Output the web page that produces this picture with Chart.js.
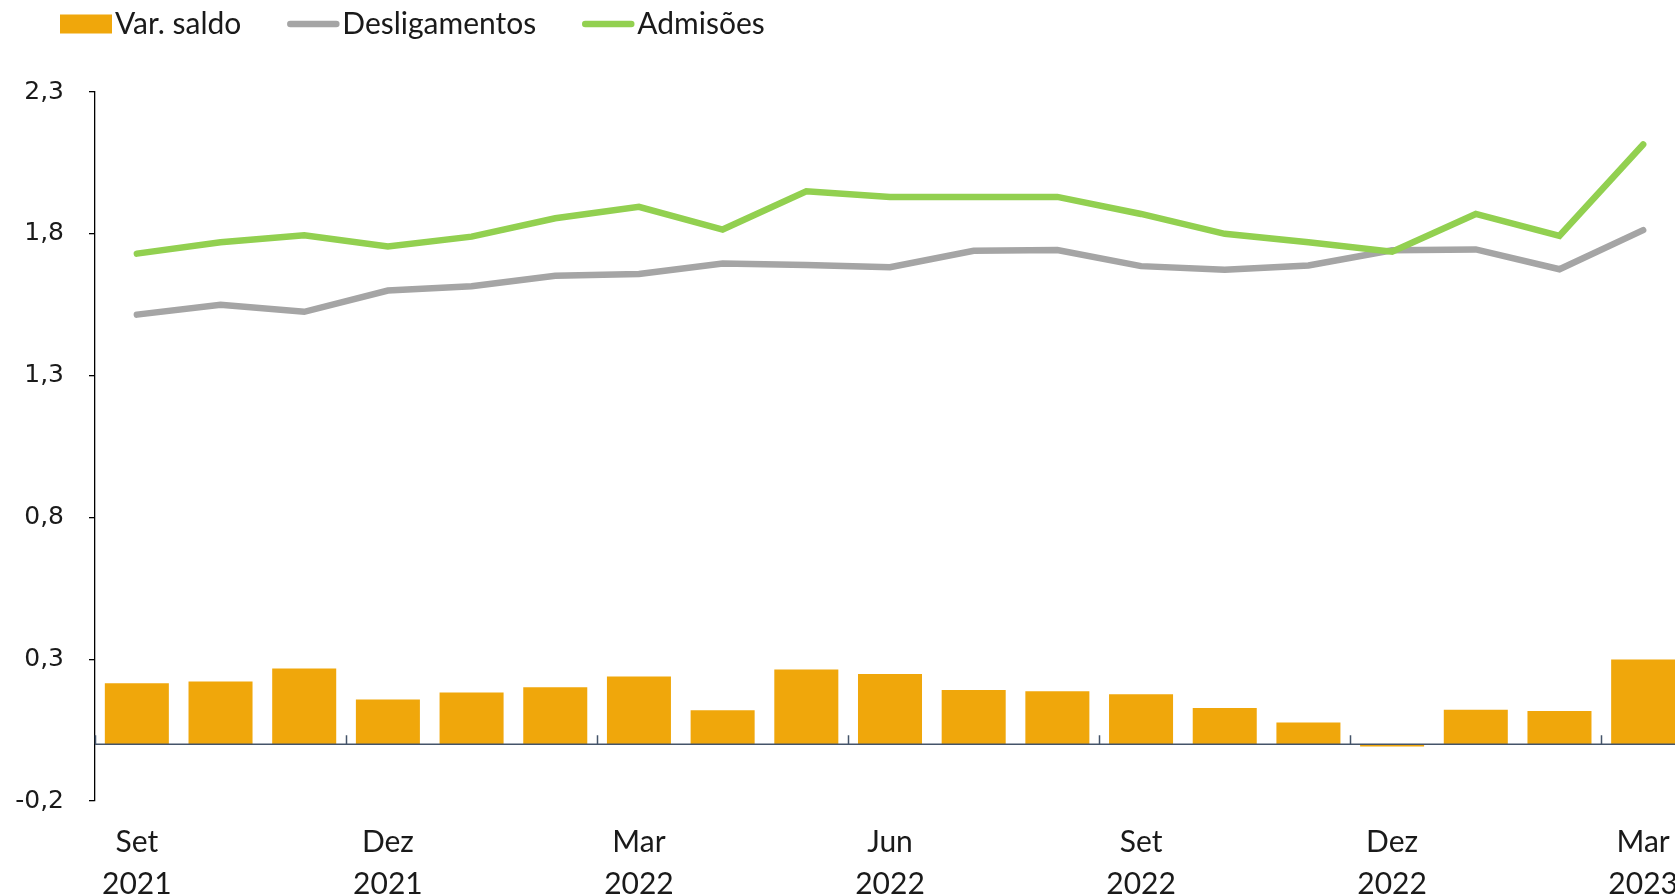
<!DOCTYPE html>
<html>
<head>
<meta charset="utf-8">
<script src="https://cdn.jsdelivr.net/npm/chart.js@4.4.0/dist/chart.umd.min.js"></script>
<style>
  html, body { margin: 0; padding: 0; overflow: hidden; background: #fff; }
  #wrap { width: 1700px; height: 896px; }
</style>
</head>
<body>
<div id="wrap"><canvas id="myChart" width="1700" height="896" style="width:1700px;height:896px"></canvas></div>
<script>
// Data
const months = ['Set', 'Out', 'Nov', 'Dez', 'Jan', 'Fev', 'Mar', 'Abr', 'Mai', 'Jun', 'Jul', 'Ago', 'Set', 'Out', 'Nov', 'Dez', 'Jan', 'Fev', 'Mar'];
const years = ['2021', '2021', '2021', '2021', '2022', '2022', '2022', '2022', '2022', '2022', '2022', '2022', '2022', '2022', '2022', '2022', '2023', '2023', '2023'];
const saldo = [0.215, 0.221, 0.267, 0.158, 0.183, 0.201, 0.239, 0.120, 0.264, 0.248, 0.191, 0.187, 0.176, 0.128, 0.077, -0.008, 0.122, 0.117, 0.299];
const desligamentos = [1.515, 1.55, 1.525, 1.60, 1.615, 1.652, 1.658, 1.695, 1.69, 1.682, 1.74, 1.743, 1.686, 1.673, 1.688, 1.742, 1.745, 1.675, 1.813];
const admissoes = [1.73, 1.77, 1.795, 1.755, 1.79, 1.855, 1.895, 1.815, 1.95, 1.93, 1.93, 1.93, 1.87, 1.80, 1.77, 1.737, 1.87, 1.793, 2.115];
const yTicks = [-0.2, 0.3, 0.8, 1.3, 1.8, 2.3];

const textColor = '#1a1a1a';
const labelFont = 'Lato';

// legend on top, drawn by hand (box + line symbols)
const topLegend = {
  id: 'topLegend',
  afterDraw(chart) {
    const ctx = chart.ctx;
    let x = 60;
    const y = 24;
    ctx.save();
    ctx.font = '30px ' + labelFont;
    ctx.textBaseline = 'middle';
    chart.data.datasets.forEach((ds) => {
      if (ds.type === 'line') {
        ctx.strokeStyle = ds.borderColor;
        ctx.lineWidth = 6.5;
        ctx.lineCap = 'round';
        ctx.beginPath();
        ctx.moveTo(x + 3, y);
        ctx.lineTo(x + 49, y);
        ctx.stroke();
      } else {
        ctx.fillStyle = ds.backgroundColor;
        ctx.fillRect(x, y - 9.5, 52, 19);
      }
      x += 55;
      ctx.fillStyle = textColor;
      ctx.fillText(ds.label, x, y);
      x += ctx.measureText(ds.label).width + 46;
    });
    ctx.restore();
  }
};

// zero line with small upward ticks every quarter
const zeroLine = {
  id: 'zeroLine',
  afterDatasetsDraw(chart) {
    const { ctx, chartArea, scales } = chart;
    const y0 = scales.y.getPixelForValue(0);
    const half = (scales.x.getPixelForValue(1) - scales.x.getPixelForValue(0)) / 2;
    ctx.save();
    ctx.strokeStyle = '#44546A';
    ctx.lineWidth = 1.5;
    ctx.beginPath();
    ctx.moveTo(chartArea.left, y0);
    ctx.lineTo(chartArea.right, y0);
    for (let i = 0; i < months.length; i += 3) {
      const xb = Math.round(scales.x.getPixelForValue(i) - half) + 0.5;
      ctx.moveTo(xb, y0);
      ctx.lineTo(xb, y0 - 9);
    }
    ctx.stroke();
    ctx.restore();
  }
};

const ctx = document.getElementById('myChart').getContext('2d');
const data = {
  labels: months,
  datasets: [
    {
      type: 'bar',
      label: 'Var. saldo',
      data: saldo,
      backgroundColor: '#F0A70B',
      barPercentage: 0.765,
      categoryPercentage: 1,
      order: 2,
    },
    {
      type: 'line',
      label: 'Desligamentos',
      data: desligamentos,
      borderColor: '#A5A5A5',
      borderWidth: 6.5,
      pointRadius: 0,
      tension: 0,
      borderCapStyle: 'round',
      order: 1,
    },
    {
      type: 'line',
      label: 'Admisões',
      data: admissoes,
      borderColor: '#92D050',
      borderWidth: 6.5,
      pointRadius: 0,
      tension: 0,
      borderCapStyle: 'round',
      order: 0,
    },
  ],
};

const config = {
  type: 'bar',
  data: data,
  options: {
    responsive: false,
    animation: false,
    layout: { padding: { top: 92, right: 15, left: 0, bottom: 0 } },
    plugins: {
      legend: { display: false },
      tooltip: { enabled: false },
    },
    scales: {
      x: {
        offset: true,
        grid: { display: false, drawTicks: false },
        border: { display: false },
        afterFit: (scale) => { scale.height = 95; },
        ticks: {
          autoSkip: false,
          maxRotation: 0,
          padding: 20,
          color: textColor,
          font: { family: labelFont, size: 30, lineHeight: 1.4 },
          callback: (v, i) => (i % 3 === 0 ? [months[i], years[i]] : ''),
        },
      },
      y: {
        min: -0.2,
        max: 2.3,
        afterBuildTicks: (scale) => { scale.ticks = yTicks.map((v) => ({ value: v })); },
        afterFit: (scale) => { scale.width = 95; },
        grid: { drawOnChartArea: false, drawTicks: true, tickLength: 6, color: '#000', lineWidth: 1.3 },
        border: { display: true, color: '#000', width: 1.3 },
        ticks: {
          padding: 25,
          color: textColor,
          font: { family: 'DejaVu Sans', size: 25 },
          callback: (v) => Number(v).toFixed(1).replace('.', ','),
        },
      },
    },
  },
  plugins: [topLegend, zeroLine],
};

const myChart = new Chart(ctx, config);
</script>
</body>
</html>
